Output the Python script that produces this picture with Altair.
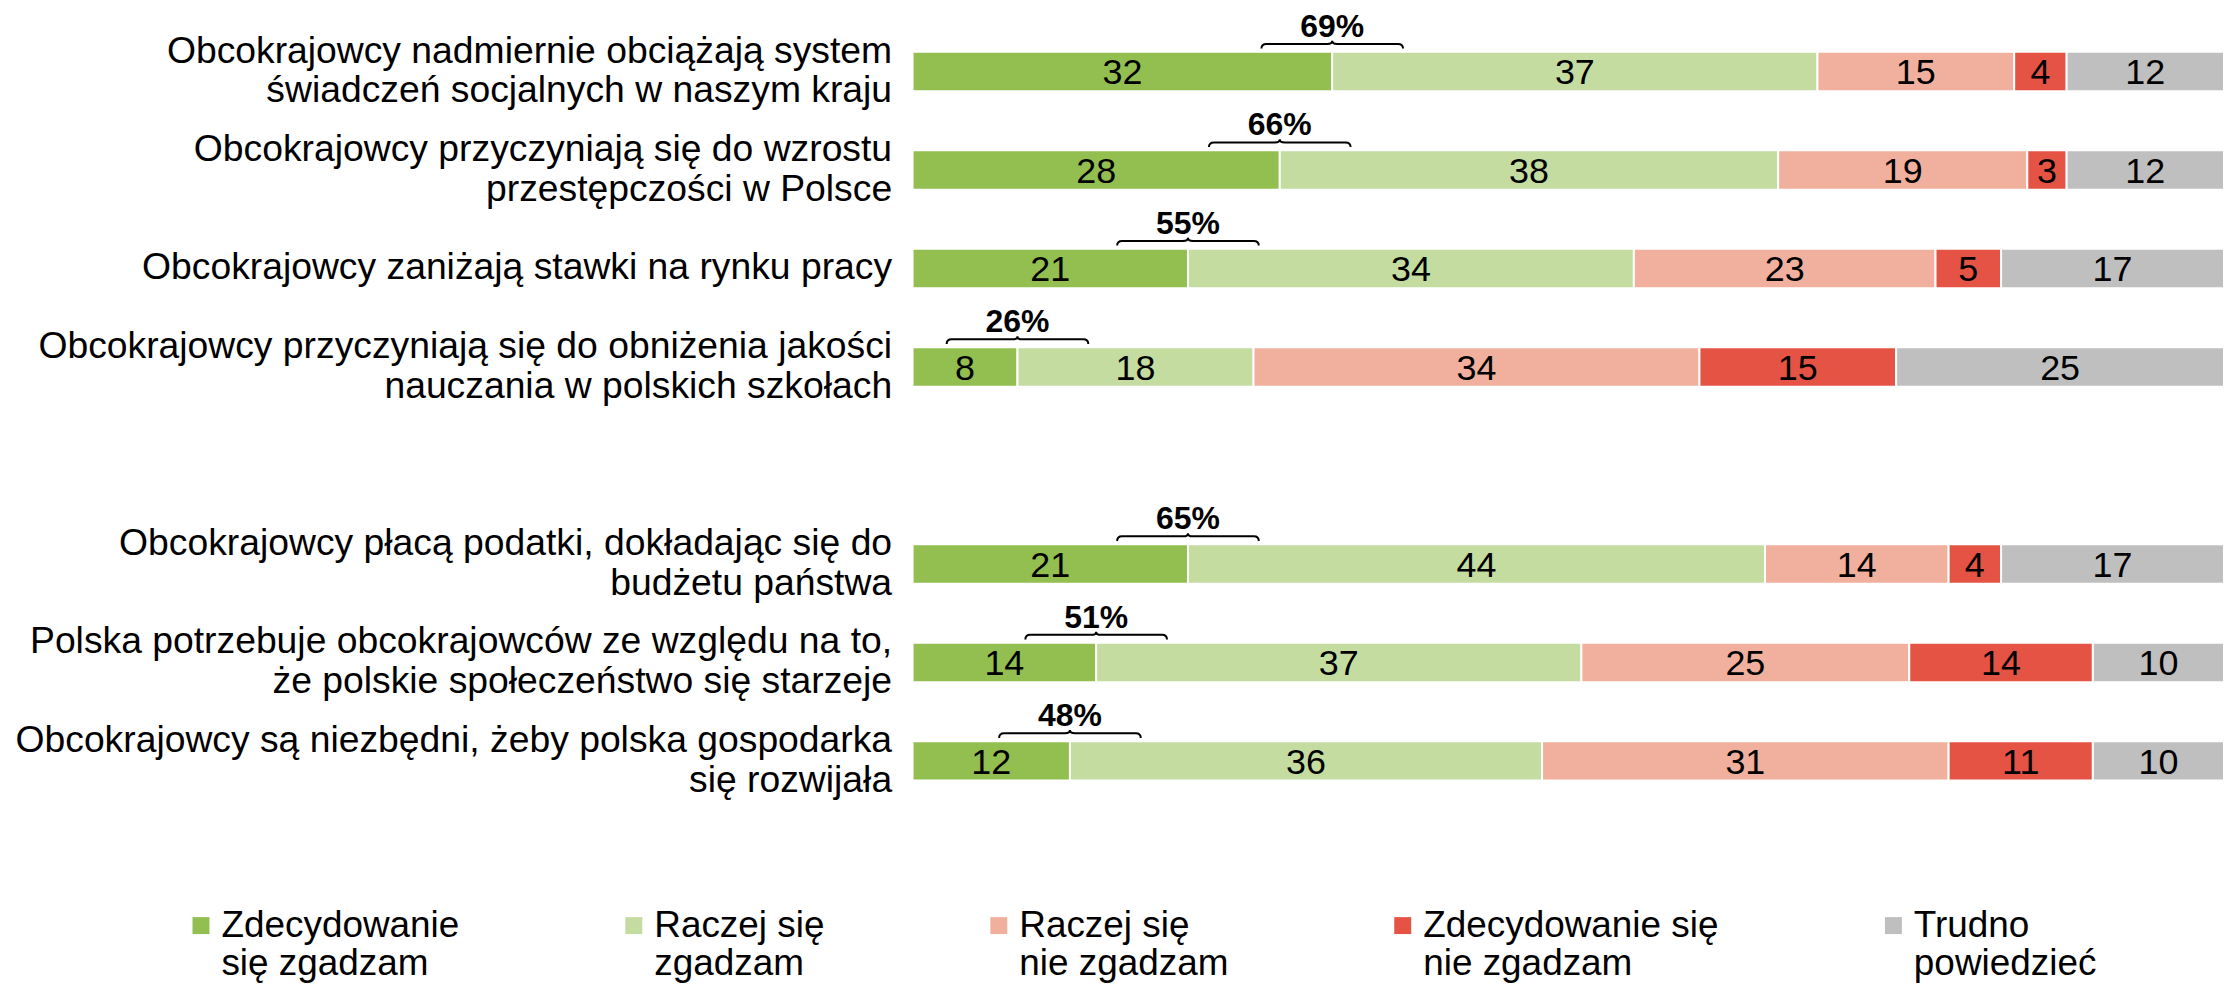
import altair as alt
import pandas as pd

FONT = "Liberation Sans"

statements = [
    "Obcokrajowcy nadmiernie obciążają system|świadczeń socjalnych w naszym kraju",
    "Obcokrajowcy przyczyniają się do wzrostu|przestępczości w Polsce",
    "Obcokrajowcy zaniżają stawki na rynku pracy",
    "Obcokrajowcy przyczyniają się do obniżenia jakości|nauczania w polskich szkołach",
    "Obcokrajowcy płacą podatki, dokładając się do|budżetu państwa",
    "Polska potrzebuje obcokrajowców ze względu na to,|że polskie społeczeństwo się starzeje",
    "Obcokrajowcy są niezbędni, żeby polska gospodarka|się rozwijała",
]
categories = [
    " Zdecydowanie|się zgadzam",
    "Raczej się|zgadzam",
    "Raczej się|nie zgadzam",
    "Zdecydowanie się|nie zgadzam",
    "Trudno|powiedzieć",
]
colors = ["#92BF50", "#C4DCA0", "#F1B09D", "#E55345", "#BFBFBF"]

strongly_agree = [32, 28, 21, 8, 21, 14, 12]
rather_agree = [37, 38, 34, 18, 44, 37, 36]
rather_disagree = [15, 19, 23, 34, 14, 25, 31]
strongly_disagree = [4, 3, 5, 15, 4, 14, 11]
hard_to_say = [12, 12, 17, 25, 17, 10, 10]
series = [strongly_agree, rather_agree, rather_disagree, strongly_disagree, hard_to_say]

rows = []
for i, s in enumerate(statements):
    for j, (cat, vals) in enumerate(zip(categories, series)):
        rows.append({
            "stmt": s, "cat": cat, "order": j, "value": vals[i],
            "agree": strongly_agree[i] + rather_agree[i],
        })
df = pd.DataFrame(rows)

y_domain = statements[:4] + [""] + statements[4:]
yscale = alt.Scale(domain=y_domain, paddingInner=0.6, paddingOuter=0.3)
xscale = alt.Scale(domain=[0, 100], nice=False, zero=True)

yaxis = alt.Axis(
    title=None, ticks=False, domain=False, labelFont=FONT, labelFontSize=37.4,
    labelColor="black", labelLimit=2000, labelPadding=21, labelAlign="right",
    labelBaseline="middle", labelLineHeight=40,
    labelOffset=alt.condition("indexof(datum.value, '|') >= 0",
                              alt.value(-20), alt.value(0)),
    labelExpr="split(datum.label, '|')",
)
Y = alt.Y("stmt:N", scale=yscale, axis=yaxis, title=None)

BRACE = ("M-1,-0.324 Q-1,-0.39 -0.93,-0.39 L-0.07,-0.39 Q0,-0.39 0,-0.435 "
         "Q0,-0.39 0.07,-0.39 L0.93,-0.39 Q1,-0.39 1,-0.324")
LEG_SYM = "M-0.85,-0.85 L0.85,-0.85 L0.85,0.85 L-0.85,0.85 Z"

base = alt.Chart(df).transform_stack(
    stack="value", groupby=["stmt"],
    sort=[alt.SortField("order", order="ascending")], as_=["x0", "x1"],
)

bars = base.mark_bar(stroke="white", strokeWidth=2).encode(
    y=Y,
    x=alt.X("x0:Q", scale=xscale, axis=None, title=None),
    x2="x1:Q",
    color=alt.Color(
        "cat:N",
        scale=alt.Scale(domain=categories, range=colors),
        legend=alt.Legend(
            title=None, orient="none", legendX=-732, legendY=887,
            direction="horizontal", columns=5, columnPadding=156,
            labelExpr="split(datum.label, '|')", labelFont=FONT,
            labelFontSize=37, labelLimit=2000,
            labelColor="black", symbolType=LEG_SYM, symbolSize=400,
            symbolStrokeWidth=0, labelOffset=2, labelBaseline="middle",
        ),
    ),
    order=alt.Order("order:Q"),
)

texts = base.transform_calculate(mid="(datum.x0 + datum.x1) / 2").mark_text(
    font=FONT, fontSize=36, color="black", baseline="alphabetic", dy=13,
).encode(y=Y, x=alt.X("mid:Q", scale=xscale, axis=None), text="value:Q")

firsts = base.transform_filter("datum.order == 0").transform_calculate(
    label="datum.agree + '%'"
)

brace = firsts.mark_point(
    shape=BRACE, size=20164, filled=False, stroke="black", strokeWidth=2,
    opacity=1,
).encode(y=Y, x=alt.X("x1:Q", scale=xscale, axis=None))

brace_text = firsts.mark_text(
    font=FONT, fontSize=32, fontWeight="bold", color="black",
    baseline="alphabetic", dy=-35,
).encode(y=Y, x=alt.X("x1:Q", scale=xscale, axis=None), text="label:N")

chart = alt.layer(bars, texts, brace, brace_text).properties(
    width=1315, height=790,
    autosize=alt.AutoSizeParams(type="none"),
    padding={"left": 907, "top": 13, "right": 5, "bottom": 176},
).configure_view(stroke=None)

chart.save("out.html", embed_options={"renderer": "svg", "actions": False})
